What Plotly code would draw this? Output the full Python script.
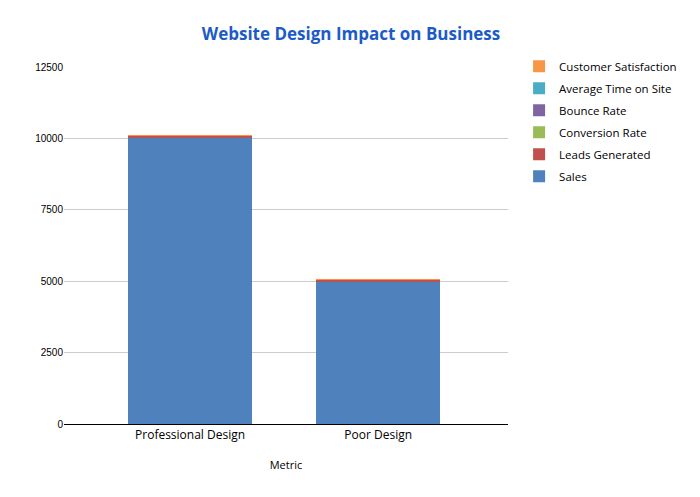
import plotly.graph_objects as go

# chart data
designs = ["Professional Design", "Poor Design"]
metrics = ["Sales", "Leads Generated", "Conversion Rate",
           "Bounce Rate", "Average Time on Site", "Customer Satisfaction"]
sales = [10000, 5000]
leads_generated = [100, 60]
conversion_rate = [5, 2]
bounce_rate = [0.4, 0.7]
avg_time_on_site = [3, 1]
customer_satisfaction = [4.5, 2.5]
ytick_vals = [0, 2500, 5000, 7500, 10000, 12500]

series = [sales, leads_generated, conversion_rate,
          bounce_rate, avg_time_on_site, customer_satisfaction]
colors = ["#4f81bd", "#c0504d", "#9bbb59", "#8064a2", "#4bacc6", "#f79646"]

fig = go.Figure()
for i, (name, vals, col) in enumerate(zip(metrics, series, colors)):
    # legend lists the top of the stack first
    fig.add_trace(go.Bar(x=designs, y=vals, name=name, marker_color=col,
                         marker_line_width=0, width=0.66, legendgroup=name,
                         legendrank=100 - i))

fig.update_layout(
    barmode="stack",
    width=700, height=497,
    margin=dict(l=56, r=200, t=59, b=81),
    plot_bgcolor="white", paper_bgcolor="white",
    font=dict(family="Open Sans", size=11, color="#000000"),
    title=dict(text="<b>Website Design Impact on Business</b>",
               x=0.49, xanchor="center", y=0.96, yanchor="top",
               font=dict(family="Open Sans", size=17, color="#1c5bc7")),
    legend=dict(x=1.025, y=1.043, xanchor="left", yanchor="top",
                traceorder="grouped", font=dict(size=11.5),
                tracegroupgap=3),
    showlegend=True,
)
fig.update_xaxes(range=[-0.67, 1.69], showline=True, linecolor="#000000",
                 linewidth=1, ticks="", title_text="Metric",
                 title_font=dict(size=11), title_standoff=18,
                 tickfont=dict(size=12))
fig.update_yaxes(range=[0, 12500], tickvals=ytick_vals,
                 ticktext=[str(v) for v in ytick_vals],
                 showgrid=True, gridcolor="#cccccc", gridwidth=1,
                 zeroline=False, showline=False, ticks="",
                 tickfont=dict(family="Liberation Sans", size=10))

fig.write_html("out.html")
